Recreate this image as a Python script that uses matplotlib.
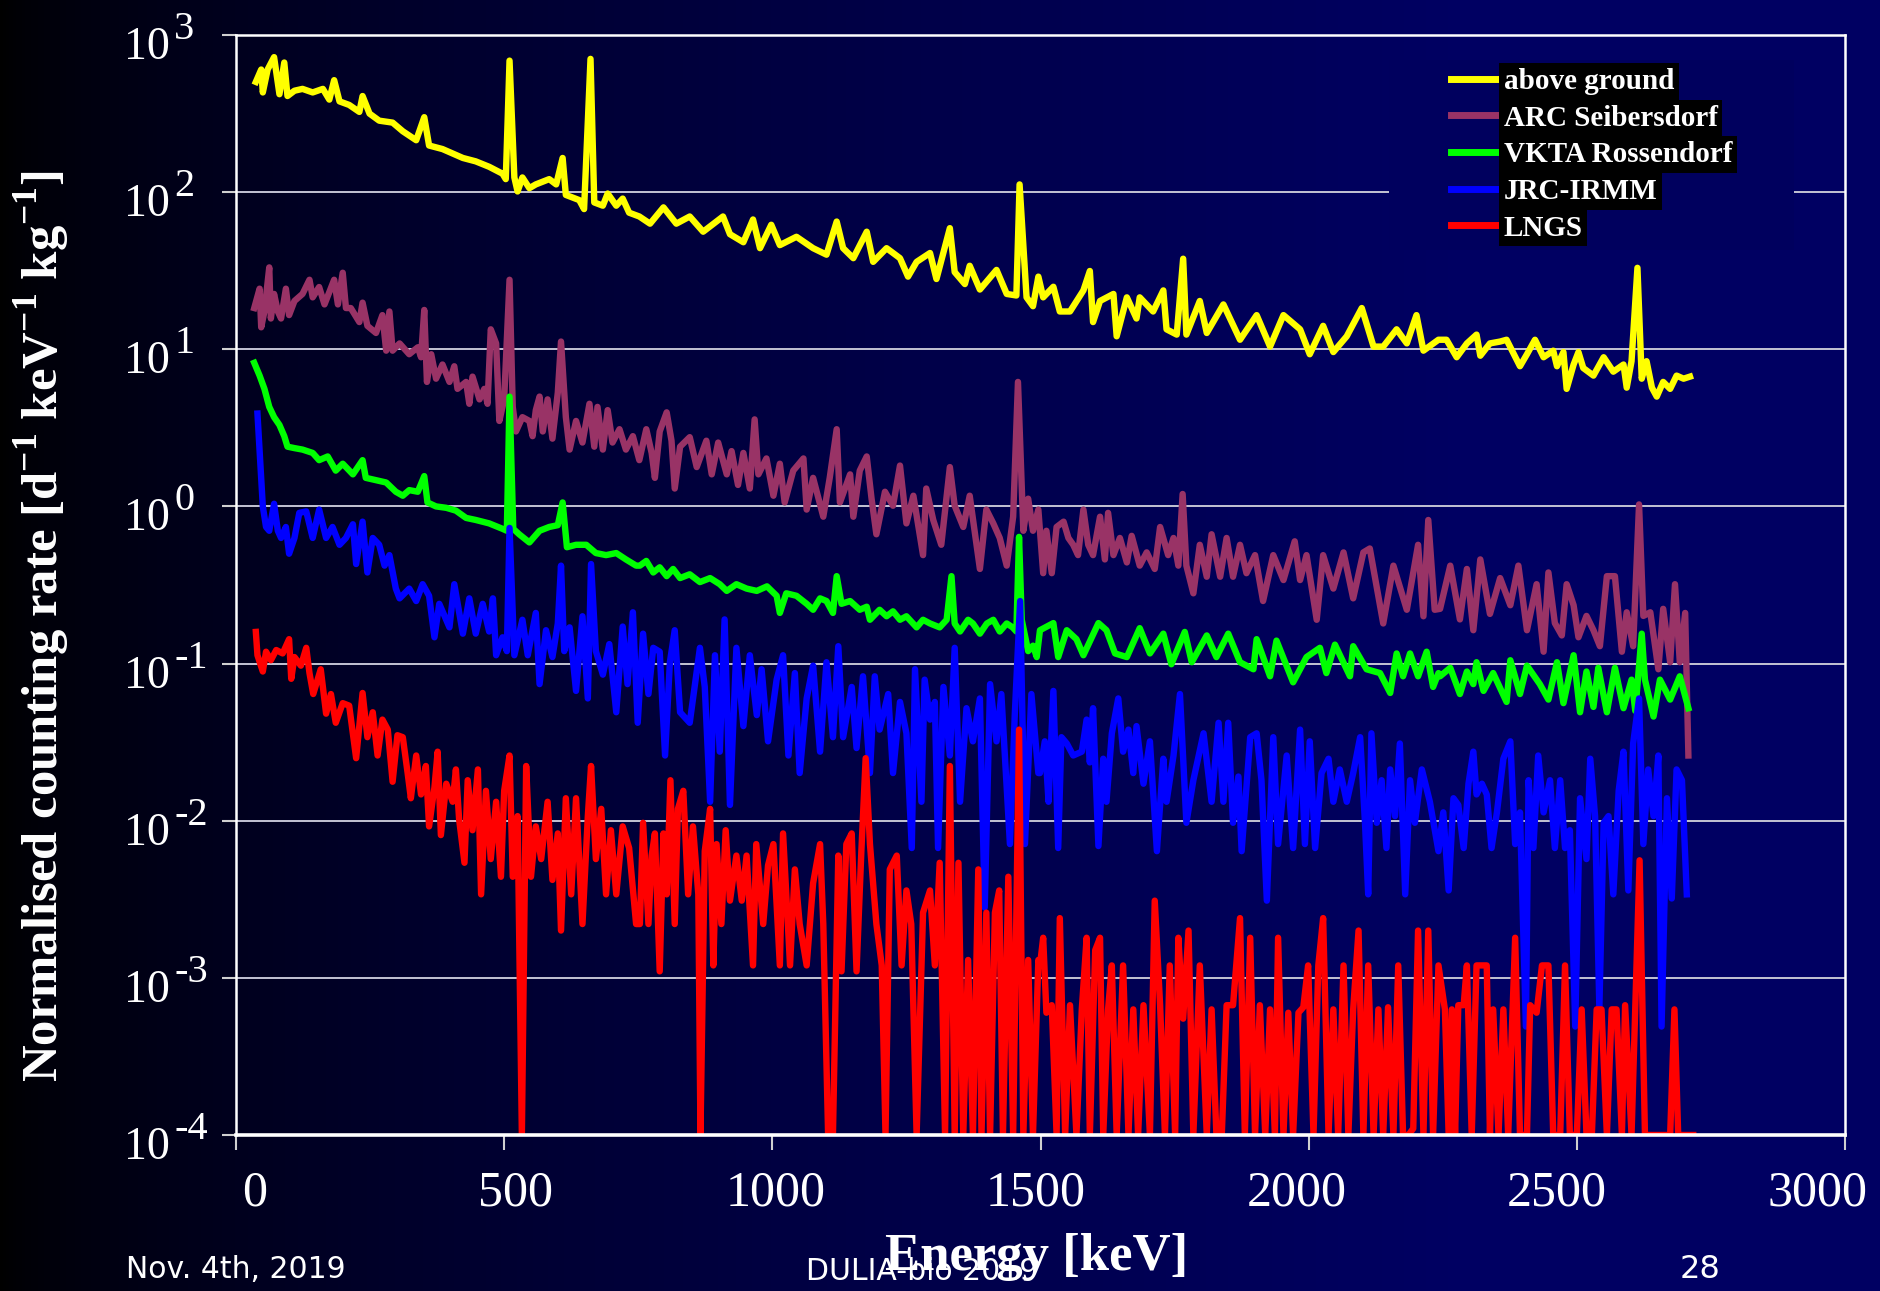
import numpy as np
import matplotlib
matplotlib.use("Agg")
import matplotlib.pyplot as plt
from matplotlib.path import Path
from matplotlib.ticker import NullLocator
from matplotlib.transforms import ScaledTranslation

# ---------------- data ----------------
series_names = ["above ground", "ARC Seibersdorf", "VKTA Rossendorf", "JRC-IRMM", "LNGS"]
series_colors = ["#ffff00", "#993366", "#00ff00", "#0000ff", "#ff0000"]

ag_keV = [37,47,50,59,71,81,90,96,109,124,143,162,174,183,193,211,230,236,249,267,292,311,336,351,360,385,423,447,472,497,503,510,519,525,534,547,559,584,597,609,615,640,649,661,668,684,693,709,721,733,752,
          772,797,821,846,871,908,921,946,964,977,998,1014,1045,1076,1101,1120,1132,1151,1176,1188,1213,1238,1253,1269,1294,1306,1331,1340,1359,1368,1387,1418,1437,1455,1461,1474,1486,1496,
          1505,1524,1536,1555,1580,1592,1598,1611,1636,1642,1661,1679,1685,1710,1729,1735,1754,1766,1772,1797,1810,1841,1872,1903,1928,1953,1984,2002,2027,2046,2071,2099,2121,2139,2164,2183,2201,2214,2242,
          2257,2276,2295,2313,2320,2338,2357,2369,2394,2407,2422,2438,2456,2463,2475,2481,2494,2503,2512,2531,2550,2568,2587,2593,2602,2613,2621,2630,2640,2649,2661,2674,2686,2699,2711]
ag_rate = [503,603,431,603,723,420,668,409,442,454,431,454,388,516,378,359,324,409,316,285,277,244,214,300,198,188,165,157,145,131,121,687,124,101,124,106,112,121,112,165,96,89,78,705,86,82,98,82,91,74,70,
           63,80,63,70,56,70,54,48,67,44,62,46,52,44,40,65,44,38,56,36,44,38,29,36,41,28,59,31,26,34,24,32,22.5,22,112,21.4,18.8,29,
           21.4,25,17.4,17.4,23.7,31.5,14.9,20.3,22.5,12.1,21.4,15.7,21.4,17.4,23.7,13.4,12.4,37.7,12.4,20.3,12.7,19.3,11.5,16.5,10.4,16.5,13.4,9.3,14.1,9.6,12.1,18.3,10.4,10.4,13.4,10.9,16.5,9.8,11.5,
           11.5,8.9,10.9,12.4,9.1,10.9,11.2,11.5,7.8,9.3,11.5,8.9,9.8,7.8,9.6,5.6,8.0,9.6,7.6,6.8,8.9,7.2,8.0,5.7,8.4,33,6.5,8.4,5.7,5.0,6.2,5.6,6.8,6.5,6.7]

arc_keV = [34,44,47,53,62,65,71,78,84,93,99,109,124,137,143,155,165,183,190,199,205,214,230,236,245,261,273,280,286,292,305,323,339,345,351,356,364,373,385,398,407,413,429,435,441,454,463,469,475,485,491,500,510,516,522,534,547,553,559,566,572,581,590,600,606,615,622,634,646,659,668,674,684,693,702,715,727,740,752,
           765,775,781,790,803,812,818,828,846,859,877,887,899,915,924,936,946,958,967,974,989,1002,1014,1023,1039,1058,1064,1076,1095,1107,1120,1126,1145,1151,1163,1176,1185,1194,1210,1225,1238,1250,1263,1281,1287,1300,1315,1331,1340,1356,1368,1387,1399,1412,1424,1437,1449,1458,1468,1477,1486,1496,
           1505,1511,1521,1530,1543,1552,1561,1570,1580,1589,1598,1611,1620,1626,1636,1648,1661,1670,1685,1698,1713,1723,1738,1748,1757,1765,1772,1785,1797,1810,1819,1835,1847,1859,1872,1884,1900,1915,1934,1953,1974,1984,1996,2015,2027,2046,2065,2083,2102,2114,2139,2158,2183,2204,2214,2223,2235,
           2245,2264,2282,2295,2307,2320,2338,2357,2376,2391,2407,2425,2438,2447,2459,2472,2481,2494,2503,2518,2531,2543,2556,2571,2584,2593,2605,2616,2624,2637,2652,2661,2674,2683,2692,2702,2708]
arc_rate = [18.3,24.3,13.8,17.4,33.2,15.7,22.5,17.4,15.7,24.3,16.5,20.3,22.5,27.7,21.4,24.9,19.3,27.7,19.3,30.7,18.3,18.3,14.9,19.8,14.1,12.7,16.5,9.8,17.4,9.8,10.9,9.3,10.3,8.9,17.8,6.2,9.3,6.5,8.0,6.2,7.8,5.6,6.2,4.5,6.7,4.8,5.6,4.5,13.4,10.9,3.5,4.8,27.7,4.3,3.0,3.7,3.5,2.8,4.1,5.0,3.0,4.8,2.7,5.3,11.2,3.7,2.3,3.5,2.55,4.5,2.4,4.3,2.3,4.1,2.55,3.1,2.3,2.8,1.97,
            3.1,2.19,1.52,3.0,3.97,2.62,1.30,2.4,2.76,1.78,2.62,1.60,2.55,1.60,2.25,1.37,2.19,1.30,3.58,1.60,2.02,1.17,1.87,1.06,1.69,2.02,0.955,1.52,0.86,1.52,3.1,1.06,1.60,0.86,1.69,2.08,1.12,0.665,1.24,1.01,1.82,0.78,1.17,0.49,1.30,0.82,0.57,1.78,1.01,0.74,1.17,0.40,0.955,0.78,0.63,0.42,0.86,6.2,0.70,1.12,0.70,0.955,
            0.376,0.70,0.376,0.74,0.80,0.63,0.57,0.49,0.955,0.57,0.49,0.86,0.46,0.91,0.49,0.63,0.44,0.65,0.42,0.51,0.40,0.74,0.49,0.63,0.42,1.2,0.42,0.28,0.57,0.357,0.665,0.357,0.63,0.357,0.57,0.376,0.49,0.25,0.49,0.34,0.60,0.34,0.49,0.19,0.49,0.30,0.51,0.26,0.51,0.54,0.18,0.42,0.22,0.57,0.20,0.82,0.22,
            0.223,0.42,0.191,0.40,0.163,0.46,0.207,0.35,0.235,0.42,0.163,0.32,0.119,0.38,0.181,0.151,0.32,0.235,0.147,0.201,0.163,0.129,0.36,0.36,0.119,0.212,0.129,1.03,0.201,0.212,0.092,0.223,0.102,0.32,0.102,0.21,0.026]

vkta_keV = [34,44,53,62,71,81,90,96,109,124,143,155,171,186,199,218,236,242,261,280,298,311,323,339,351,357,373,392,410,429,447,472,497,505,510,517,528,547,566,584,600,609,617,634,653,671,690,709,727,746,
            753,765,778,790,803,815,828,846,865,884,902,915,933,952,971,990,1008,1014,1026,1045,1064,1076,1089,1101,1113,1120,1129,1145,1163,1176,1182,1200,1213,1225,1238,1250,1269,1281,1294,1312,1325,1334,1340,1350,1365,1374,1387,1400,1412,1424,1437,1448,1455,1460,1465,1477,1486,1493,
            1499,1524,1533,1549,1567,1580,1608,1623,1639,1661,1685,1704,1729,1744,1769,1782,1810,1828,1850,1872,1897,1903,1928,1940,1971,1996,2021,2033,2049,2077,2083,2108,2133,2152,2164,2176,2189,2204,2220,2232,2242,
            2245,2264,2282,2295,2307,2313,2326,2344,2369,2376,2394,2407,2431,2447,2463,2475,2494,2506,2518,2531,2540,2556,2571,2587,2602,2609,2621,2627,2643,2655,2674,2692,2708]
vkta_rate = [8.2,6.8,5.6,4.3,3.7,3.3,2.8,2.4,2.35,2.3,2.19,1.97,2.08,1.69,1.87,1.6,1.97,1.52,1.47,1.42,1.24,1.17,1.27,1.24,1.56,1.06,1.0,0.98,0.94,0.845,0.82,0.78,0.72,0.70,5.0,0.72,0.665,0.59,0.70,0.74,0.76,1.06,0.55,0.57,0.57,0.505,0.49,0.505,0.46,0.42,
             0.42,0.45,0.38,0.41,0.36,0.40,0.35,0.37,0.33,0.35,0.32,0.29,0.32,0.30,0.29,0.31,0.27,0.21,0.28,0.27,0.24,0.22,0.26,0.25,0.21,0.36,0.24,0.25,0.22,0.23,0.19,0.22,0.20,0.215,0.19,0.20,0.17,0.19,0.18,0.17,0.19,0.36,0.18,0.16,0.19,0.18,0.155,0.18,0.19,0.16,0.18,0.17,0.16,0.64,0.19,0.12,0.13,0.11,
             0.163,0.181,0.110,0.163,0.143,0.113,0.181,0.163,0.116,0.110,0.168,0.116,0.155,0.099,0.159,0.102,0.151,0.110,0.155,0.102,0.092,0.143,0.083,0.14,0.076,0.110,0.126,0.087,0.132,0.083,0.129,0.092,0.087,0.065,0.116,0.083,0.116,0.083,0.119,0.071,0.087,
             0.083,0.094,0.064,0.089,0.074,0.102,0.067,0.087,0.057,0.105,0.064,0.097,0.074,0.059,0.102,0.056,0.113,0.049,0.089,0.053,0.094,0.049,0.094,0.052,0.079,0.050,0.155,0.079,0.046,0.079,0.059,0.083,0.052]

jrc_keV = [40,47,50,56,62,71,78,84,93,99,109,118,131,143,155,168,180,193,205,218,224,236,245,255,267,277,286,
           298,305,323,336,348,360,370,379,398,407,423,435,447,460,472,479,485,497,505,510,519,534,544,559,566,578,590,600,606,612,622,634,646,656,662,671,684,696,709,721,730,740,749,
           759,769,778,790,800,809,818,828,846,865,874,884,893,902,911,921,933,946,958,971,980,992,1008,1020,1030,1042,1051,1064,1076,1089,1101,1113,1123,1132,1148,1157,1169,1182,1191,1200,1216,1225,1238,1250,1260,1266,1278,1284,1294,1303,1309,1319,1331,1340,1350,1362,1374,1387,1396,1406,1418,1427,1443,1452,1462,1471,1483,1496,
           1499,1508,1515,1524,1533,1539,1549,1561,1577,1586,1592,1598,1608,1617,1623,1633,1645,1654,1664,1673,1679,1692,1704,1717,1729,1735,1748,1760,1772,1785,1804,1819,1832,1841,1850,1859,1869,1875,1891,1903,1912,1922,1934,1943,1959,1971,1984,1993,2002,2012,2024,2037,2046,2058,2071,2083,2096,2105,2111,2117,2127,2136,2145,2152,2161,2170,2180,2189,2198,2211,2226,2242,
           2251,2261,2270,2279,2289,2298,2307,2313,2323,2332,2341,2351,2363,2376,2385,2394,2405,2410,2419,2428,2438,2450,2459,2469,2478,2487,2497,2506,2518,2525,2534,2542,2550,2559,2568,2578,2587,2596,2605,2616,2624,2633,2643,2652,2658,2668,2677,2686,2696,2705]
jrc_rate = [3.9,1.52,1.0,0.74,0.70,1.04,0.70,0.63,0.74,0.50,0.63,0.91,0.93,0.63,0.955,0.63,0.74,0.57,0.63,0.77,0.43,0.80,0.38,0.63,0.57,0.42,0.49,
            0.30,0.26,0.30,0.25,0.32,0.27,0.147,0.24,0.17,0.32,0.155,0.26,0.155,0.24,0.16,0.26,0.113,0.147,0.12,0.73,0.113,0.19,0.113,0.21,0.074,0.163,0.11,0.18,0.42,0.12,0.17,0.067,0.20,0.06,0.43,0.12,0.085,0.133,0.049,0.172,0.074,0.212,0.042,
            0.155,0.064,0.126,0.119,0.026,0.102,0.163,0.049,0.042,0.126,0.071,0.0132,0.113,0.0275,0.191,0.0126,0.126,0.040,0.113,0.047,0.092,0.032,0.079,0.113,0.026,0.087,0.0201,0.060,0.097,0.0275,0.102,0.034,0.129,0.034,0.071,0.029,0.083,0.0201,0.083,0.038,0.064,0.0201,0.057,0.036,0.0067,0.092,0.0132,0.079,0.044,0.057,0.0067,0.071,0.026,0.126,0.0132,0.052,0.032,0.060,0.0028,0.074,0.032,0.064,0.0071,0.047,0.25,0.0071,0.064,0.0201,
            0.0201,0.032,0.0132,0.067,0.0067,0.034,0.031,0.026,0.0275,0.044,0.0235,0.052,0.0069,0.0248,0.0132,0.036,0.060,0.0275,0.038,0.0201,0.040,0.0172,0.032,0.0064,0.0248,0.0132,0.026,0.064,0.0097,0.0181,0.036,0.0132,0.042,0.0132,0.042,0.0097,0.0191,0.0064,0.034,0.036,0.0181,0.0031,0.034,0.0071,0.026,0.0067,0.038,0.0071,0.032,0.0067,0.0201,0.0248,0.0132,0.0212,0.0132,0.0201,0.034,0.0097,0.0034,0.036,0.0097,0.0181,0.0067,0.0212,0.0107,0.031,0.0034,0.0181,0.0097,0.0212,0.0132,0.0064,
            0.0113,0.0036,0.0139,0.0126,0.0067,0.0172,0.0275,0.0147,0.0172,0.0147,0.0067,0.0113,0.0248,0.032,0.0071,0.0113,0.00049,0.0181,0.0067,0.026,0.0113,0.0181,0.0067,0.0181,0.0067,0.0087,0.00049,0.0139,0.0057,0.0248,0.0107,0.00064,0.0097,0.0107,0.0034,0.0155,0.0275,0.0036,0.031,0.060,0.0071,0.0212,0.0107,0.026,0.00049,0.0139,0.0032,0.0212,0.0181,0.0034]

lngs_keV = [37,40,50,56,65,75,87,99,103,109,121,131,137,144,158,168,177,186,199,211,224,236,245,255,264,273,283,292,301,311,320,326,336,345,354,360,370,376,382,392,404,410,416,426,432,441,451,457,466,475,485,494,500,510,516,525,533,541,550,559,569,581,590,600,606,615,625,634,646,656,662,671,681,690,699,709,721,733,746,
            753,759,769,775,781,790,797,803,810,818,824,834,843,852,862,866,874,884,890,896,905,913,921,933,943,952,964,970,983,992,1002,1014,1020,1033,1042,1051,1064,1076,1089,1095,1104,1113,1123,1129,1138,1148,1157,1166,1174,1182,1194,1204,1211,1219,1232,1241,1250,1259,1269,1281,1294,1303,1312,1322,1331,1340,1347,1356,1365,1374,1384,1390,1399,1406,1415,1423,1430,1440,1449,1460,1468,1477,1486,1496,
            1499,1505,1511,1521,1530,1536,1546,1555,1567,1577,1586,1592,1602,1611,1617,1626,1633,1642,1654,1664,1673,1682,1692,1704,1713,1723,1732,1741,1751,1757,1766,1776,1785,1797,1810,1819,1828,1838,1847,1859,1872,1881,1891,1900,1909,1919,1928,1937,1943,1953,1962,1971,1981,1990,1999,2009,2018,2027,2037,2046,2055,2065,2074,2083,2093,2102,2111,2121,2130,2139,2148,2158,2167,2176,2186,2195,2204,2214,2223,2232,2242,
            2254,2261,2267,2273,2279,2289,2295,2304,2313,2323,2332,2338,2344,2354,2363,2372,2385,2394,2407,2413,2425,2435,2447,2456,2469,2478,2487,2500,2509,2518,2528,2537,2546,2556,2565,2574,2584,2590,2602,2617,2627,2643,2661,2674,2682,2689,2717]
lngs_rate = [0.159,0.113,0.089,0.119,0.105,0.122,0.116,0.143,0.080,0.110,0.097,0.126,0.087,0.064,0.092,0.048,0.064,0.042,0.056,0.054,0.025,0.065,0.034,0.049,0.026,0.044,0.038,0.0177,0.035,0.034,0.0201,0.0139,0.026,0.0147,0.0223,0.0092,0.0163,0.0275,0.0081,0.0172,0.0132,0.0212,0.0102,0.0054,0.0181,0.0087,0.0212,0.0034,0.0155,0.0057,0.0132,0.0044,0.0155,0.026,0.0044,0.0107,0.0001,0.0223,0.0044,0.0092,0.0057,0.0132,0.0042,0.0083,0.0020,0.0139,0.0034,0.0139,0.0022,0.0107,0.0223,0.0057,0.0119,0.0034,0.0087,0.0034,0.0092,0.0067,0.0022,
             0.0022,0.0097,0.0022,0.006,0.0083,0.0011,0.0083,0.0034,0.0181,0.0022,0.0119,0.0155,0.0034,0.0092,0.0034,0.0001,0.0064,0.0119,0.0012,0.0071,0.0022,0.0087,0.0031,0.006,0.0031,0.006,0.0012,0.0071,0.0022,0.0052,0.0071,0.0012,0.0083,0.0012,0.0049,0.0022,0.0012,0.0040,0.0071,0.0022,0.0001,0.0001,0.006,0.0011,0.0071,0.0083,0.0011,0.0064,0.025,0.0071,0.0022,0.0012,0.0001,0.0049,0.006,0.0012,0.0036,0.0022,0.0001,0.0026,0.0036,0.0012,0.0054,0.0001,0.0223,0.0001,0.0054,0.0001,0.0013,0.0001,0.0049,0.0001,0.0026,0.0001,0.0026,0.0036,0.0001,0.0044,0.0001,0.038,0.0001,0.0013,0.0001,0.0013,
             0.0012,0.0018,0.0006,0.00067,0.0001,0.0024,0.0001,0.00067,0.0001,0.00063,0.0018,0.0001,0.0015,0.0018,0.0001,0.00063,0.0012,0.0001,0.0012,0.0001,0.00063,0.0001,0.00067,0.0001,0.0031,0.00067,0.0001,0.0012,0.0001,0.0018,0.00055,0.002,0.0001,0.0012,0.0001,0.00063,0.0001,0.0001,0.00067,0.00067,0.0024,0.0001,0.0018,0.0001,0.00067,0.0001,0.00063,0.0001,0.0018,0.0001,0.0006,0.0001,0.0006,0.00065,0.0012,0.0001,0.0012,0.0024,0.0001,0.00063,0.0001,0.0012,0.0001,0.00063,0.002,0.0001,0.0012,0.0001,0.00063,0.0001,0.00065,0.0001,0.0012,0.0001,0.0001,0.00011,0.002,0.0001,0.002,0.0001,0.0012,
             0.00063,0.0001,0.00063,0.0001,0.00067,0.00067,0.0012,0.0001,0.0012,0.0012,0.0012,0.0001,0.00063,0.0001,0.00063,0.0001,0.0018,0.0001,0.0001,0.00067,0.0006,0.0012,0.0012,0.0001,0.0001,0.0012,0.0001,0.0001,0.00063,0.0001,0.0001,0.00063,0.00063,0.0001,0.00063,0.00063,0.0001,0.00067,0.0001,0.0056,0.0001,0.0001,0.0001,0.0001,0.00063,0.0001,0.0001]

xtick_vals = [0, 500, 1000, 1500, 2000, 2500, 3000]
ytick_vals = [1e3, 1e2, 1e1, 1e0, 1e-1, 1e-2, 1e-3, 1e-4]
ytick_exps = ["3", "2", "1", "0", "-1", "-2", "-3", "-4"]

series = [(ag_keV, ag_rate), (arc_keV, arc_rate), (vkta_keV, vkta_rate), (jrc_keV, jrc_rate), (lngs_keV, lngs_rate)]
for n, (e, r) in zip(series_names, series):
    if len(e) != len(r):
        raise ValueError(f"{n}: {len(e)} energies vs {len(r)} rates")

# ---------------- figure ----------------
W, H = 1880, 1291
plt.rcParams['mathtext.fontset'] = 'custom'
plt.rcParams['mathtext.rm'] = 'Liberation Serif'
plt.rcParams['mathtext.bf'] = 'Liberation Serif:bold'
SERIF = 'Liberation Serif'

fig = plt.figure(figsize=(W / 100, H / 100), dpi=100)

# slide background: black on the left to navy on the right
bg = fig.add_axes([0, 0, 1, 1], zorder=-10)
gx = np.linspace(0, 1, 600)
grad = np.zeros((1, gx.size, 3))
grad[0, :, 2] = (98 / 255) * np.clip(gx * W / 1450, 0, 1) ** 0.65
bg.imshow(grad, aspect='auto', extent=[0, 1, 0, 1])
bg.axis('off')

ax = fig.add_axes([236 / W, 1 - 1135 / H, (1845 - 236) / W, (1135 - 35) / H])
ax.set_facecolor('none')

for (e, r), c, n in zip(series, series_colors, series_names):
    ax.plot(e, r, color=c, lw=4.6, label=n)

ax.set_yscale('log')
ax.set_ylim(1e-4, 1e3)
ax.set_xlim(0, 3000)
ax.set_yticks(ytick_vals)
ax.yaxis.set_minor_locator(NullLocator())
ax.set_xticks(xtick_vals)
ax.set_xticklabels([str(v) for v in xtick_vals], fontsize=36, family=SERIF, color='white')
ax.tick_params(axis='y', labelleft=False, colors='#d0d0d0', direction='out', length=10, width=1.5)
ax.tick_params(axis='x', colors='#d0d0d0', labelcolor='white', direction='out', length=11, width=1.5, pad=14)
# the slide's x labels sit on a slightly narrower spacing than the ticks
for k, lab in enumerate(ax.get_xticklabels()):
    dx_px = 19 - 7.8 * k
    lab.set_transform(lab.get_transform() + ScaledTranslation(dx_px / 100, 0, fig.dpi_scale_trans))
ax.yaxis.grid(True, color='#c4c4d4', lw=1.4)
ax.set_axisbelow(True)
for s in ax.spines.values():
    s.set_color('white')
    s.set_linewidth(1.8)
ax.spines['bottom'].set_linewidth(2.6)

# y tick labels "10" with large exponent
for v, ex in zip(ytick_vals, ytick_exps):
    ax.annotate('10', xy=(124 / W, v), xycoords=('figure fraction', 'data'),
                xytext=(0, -24), textcoords='offset pixels', ha='left', va='baseline',
                fontsize=33, family=SERIF, color='white', annotation_clip=False)
    ax.annotate(ex, xy=(124 / W, v), xycoords=('figure fraction', 'data'),
                xytext=(50, -4), textcoords='offset pixels', ha='left', va='baseline',
                fontsize=29, family=SERIF, color='white', annotation_clip=False)

# legend
def legend_box(x0, y0, width, height, mutation_size):
    dx, dy = 62, 8
    return Path([(x0 - dx, y0 - dy), (x0 + width + dx, y0 - dy), (x0 + width + dx, y0 + height + dy),
                 (x0 - dx, y0 + height + dy), (x0 - dx, y0 - dy)], closed=True)

leg = ax.legend(loc='upper left', bbox_to_anchor=(1451 / W, 1 - 68 / H), bbox_transform=fig.transFigure,
                prop={'family': SERIF, 'weight': 'bold', 'size': 21}, labelcolor='white',
                handlelength=1.65, handletextpad=0.15, labelspacing=0.33, borderpad=0, borderaxespad=0,
                frameon=True, facecolor='#00005e', edgecolor='none', framealpha=1, fancybox=False)
leg.get_frame().set_boxstyle(legend_box)
for t in leg.get_texts():
    t.set_bbox(dict(facecolor='black', edgecolor='none', boxstyle='square,pad=0.17'))
for l in leg.get_lines():
    l.set_linewidth(5)

# axis titles
fig.text(42 / W, 1 - 626 / H,
         r'Normalised counting rate [d$^{\mathbf{-1}}$ keV$^{\mathbf{-1}}$ kg$^{\mathbf{-1}}$]',
         rotation=90, ha='center', va='center', fontsize=36.5, fontweight='bold', family=SERIF, color='white')

# footer of the slide
fig.text(126 / W, 1 - 1269 / H, 'Nov. 4th, 2019', ha='left', va='center', fontsize=21.5, color='white', family='DejaVu Sans')
fig.text(922 / W, 1 - 1271 / H, 'DULIA-bio 2019', ha='center', va='center', fontsize=21.5, color='white', family='DejaVu Sans')
fig.text(1700 / W, 1 - 1269 / H, '28', ha='center', va='center', fontsize=23, color='white', family='DejaVu Sans')

fig.text(1037 / W, 1 - 1257 / H, 'Energy [keV]', ha='center', va='center', fontsize=38,
         fontweight='bold', family=SERIF, color='white')

fig.savefig('out.png', dpi=100, facecolor='black')
